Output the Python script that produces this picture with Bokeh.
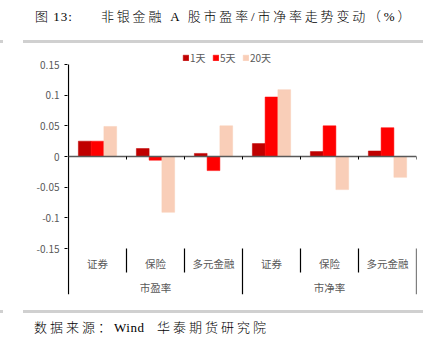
from bokeh.plotting import figure
from bokeh.models import (ColumnDataSource, FixedTicker, Legend, LegendItem,
                          Range1d, Div)
from bokeh.layouts import column
from bokeh.core.properties import value
from bokeh.embed import file_html
from bokeh.resources import INLINE

groups = ["市盈率", "市净率"]
subcats = ["证券", "保险", "多元金融"]
series = ["1天", "5天", "20天"]
d1 = [0.025, 0.013, 0.005, 0.021, 0.008, 0.009]
d5 = [0.025, -0.006, -0.023, 0.097, 0.050, 0.047]
d20 = [0.049, -0.091, 0.050, 0.109, -0.054, -0.034]
colors = ["#C00000", "#FF0000", "#F9CEB8"]
yticks = [-0.15, -0.1, -0.05, 0, 0.05, 0.1, 0.15]
ytick_labels = ["-0.15", "-0.1", "-0.05", "0", "0.05", "0.1", "0.15"]
title_num = "图 13:"
title_text = "非银金融 A 股市盈率/市净率走势变动（%）"
source_pre = "数据来源："
source_mid = "Wind"
source_post = "华泰期货研究院"

FONT = "Noto Sans CJK SC"
SERIF = "'Liberation Serif', 'Noto Sans CJK SC', serif"
GRAY = "#595959"
BAR = "#D0D0D0"

W = 441
TOP_H = 44
FIG_H = 266
BOT_H = 346 - TOP_H - FIG_H
# canvas positions (reference pixels)
AX_X, R = 68, 416
Y015, YM015, YBOT, YTOPF = 64, 248, 294, 46
ppu = (YM015 - Y015) / 0.3          # pixels per unit
ppx = (R - AX_X) / 6.0              # pixels per group
L = AX_X - 1                        # frame left edge
x_start = -(AX_X - L) / ppx
y_top = 0.15 + (Y015 - YTOPF) / ppu
y_bot = -0.15 - (YBOT - YM015) / ppu
FT = YTOPF - TOP_H
FB = YBOT - TOP_H

p = figure(width=W, height=FIG_H, output_backend="svg", toolbar_location=None,
           x_range=Range1d(x_start, 6), y_range=Range1d(y_bot, y_top),
           min_border_left=L, min_border_right=W - R, min_border_top=FT,
           min_border_bottom=FIG_H - FB, margin=0)
p.outline_line_color = None
p.xgrid.visible = False
p.ygrid.visible = False
p.xaxis.visible = False
p.background_fill_color = "white"
p.border_fill_color = "white"

ya = p.yaxis[0]
ya.ticker = FixedTicker(ticks=yticks)
ya.major_label_overrides = {t: s for t, s in zip(yticks, ytick_labels)}
ya.axis_line_color = None
ya.major_tick_line_color = "black"
ya.major_tick_in = 0
ya.major_tick_out = 3
ya.minor_tick_line_color = None
ya.major_label_text_font = FONT
ya.major_label_text_font_size = "10px"
ya.major_label_text_color = GRAY
ya.major_label_standoff = 5

# y axis line drawn through the data scale
p.segment(x0=[0], y0=[y_bot], x1=[0], y1=[0.15], line_color="black",
          line_width=1.2)

n = len(d1)
width = 0.22
offsets = [-width, 0, width]
items = []
for s, vals, c, off in zip(series, [d1, d5, d20], colors, offsets):
    src = ColumnDataSource(dict(x=[i + 0.5 + off for i in range(n)], top=vals))
    r = p.vbar(x="x", top="top", bottom=0, width=width, source=src,
               fill_color=c, line_color=c, line_width=0.5)
    items.append(LegendItem(label=s, renderers=[r]))

# zero line and its ticks
p.segment(x0=[0], y0=[0], x1=[6], y1=[0], line_color=GRAY, line_width=1.5)
tick_len = 3 / ppu
bounds = list(range(1, 7))
p.segment(x0=bounds, y0=[0] * 6, x1=bounds, y1=[-tick_len] * 6,
          line_color="black", line_width=1)

# category separators
sep_short = -0.15 - (272 - YM015) / ppu
ys1 = [y_bot if b % 3 == 0 else sep_short for b in bounds]
p.segment(x0=bounds, y0=[-0.15] * len(bounds), x1=bounds, y1=ys1,
          line_color="black", line_width=1.2)

# category labels
sub_x = [i + 0.5 for i in range(n)]
sub_t = subcats * len(groups)
p.text(x=sub_x, y=[-0.15 - (263 - YM015) / ppu] * n, text=sub_t,
       text_font=value(FONT), text_font_size="10.5px", text_color=GRAY,
       text_align="center", text_baseline="middle")
p.text(x=[1.5, 4.5], y=[-0.15 - (287 - YM015) / ppu] * 2, text=groups,
       text_font=value(FONT), text_font_size="10.5px", text_color=GRAY,
       text_align="center", text_baseline="middle")

frame_h = YBOT - YTOPF
legend = Legend(items=items, orientation="horizontal",
                location=(182 - L, frame_h - 19),
                label_text_font=FONT, label_text_font_size="10px",
                label_text_color=GRAY, glyph_width=7, glyph_height=7,
                label_standoff=1, spacing=2, padding=0, margin=0,
                border_line_color=None, background_fill_alpha=0,
                label_height=12)
p.add_layout(legend)

txt = f"font-family:{SERIF};font-size:13px;color:#000;white-space:nowrap;font-weight:300;"
top_div = Div(width=W, height=TOP_H, margin=0, text=f"""
<div style="position:relative;width:{W}px;height:{TOP_H}px;">
 <span style="position:absolute;left:35px;top:8px;{txt}letter-spacing:1px;">{title_num}</span>
 <span style="position:absolute;left:101px;top:8px;{txt}letter-spacing:2.8px;">{title_text}</span>
 <div style="position:absolute;left:0px;top:40px;width:3px;height:3px;background:{BAR};"></div>
 <div style="position:absolute;left:23px;top:40px;width:400px;height:3px;background:{BAR};"></div>
</div>""")

bot_div = Div(width=W, height=BOT_H, margin=0, text=f"""
<div style="position:relative;width:{W}px;height:{BOT_H}px;">
 <div style="position:absolute;left:0px;top:0px;width:3px;height:3px;background:{BAR};"></div>
 <div style="position:absolute;left:23px;top:0px;width:400px;height:3px;background:{BAR};"></div>
 <span style="position:absolute;left:34px;top:9px;{txt}letter-spacing:3px;">{source_pre}<span style="letter-spacing:0.5px;">{source_mid}</span>&nbsp;&nbsp;{source_post}</span>
</div>""")

layout = column(top_div, p, bot_div, spacing=0, margin=0)
open("out.html", "w").write(file_html(layout, INLINE))
